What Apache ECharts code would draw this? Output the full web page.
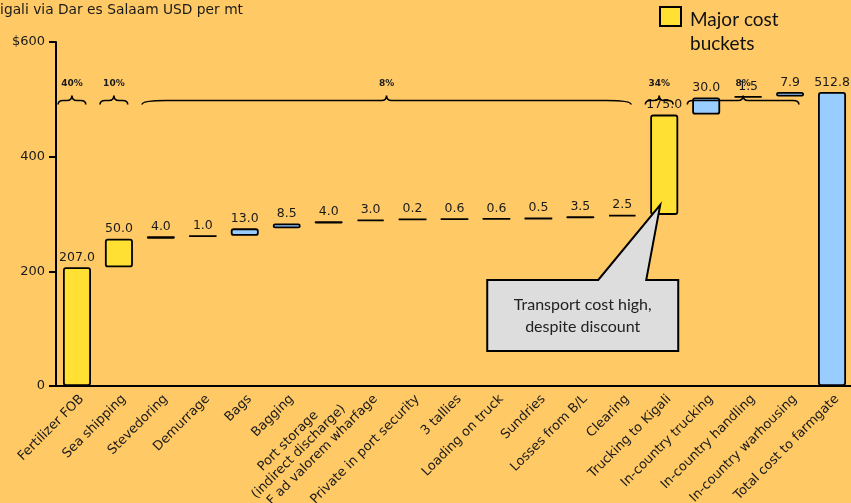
<!DOCTYPE html>
<html><head><meta charset="utf-8">
<script src="https://cdn.jsdelivr.net/npm/echarts@6/dist/echarts.min.js"></script>
<style>html,body{margin:0;padding:0;background:#FFC966;}#c{width:851px;height:503px;}</style>
</head><body><div id="c"></div>
<script>
// ---- data ----
const categories = ['Fertilizer FOB','Sea shipping','Stevedoring','Demurrage','Bags','Bagging',
  'Port storage\n(indirect discharge)','C+F ad valorem wharfage','Private in port security','3 tallies',
  'Loading on truck','Sundries','Losses from B/L','Clearing','Trucking to Kigali','In-country trucking',
  'In-country handling','In-country warhousing','Total cost to farmgate'];
const costValues = [207.0,50.0,4.0,1.0,13.0,8.5,4.0,3.0,0.2,0.6,0.6,0.5,3.5,2.5,175.0,30.0,1.5,7.9,512.8];
const majorBucket = [true,true,false,false,false,false,false,false,false,false,false,false,false,false,true,false,false,false,false];
const totalBar = [false,false,false,false,false,false,false,false,false,false,false,false,false,false,false,false,false,false,true];
const yTickValues = [0,200,400,600];
const yTickLabels = ['0','200','400','$600'];
const braceFrom = [0,1,2,14,15];
const braceTo = [0,1,13,14,17];
const braceLabels = ['40%','10%','8%','34%','8%'];
const calloutCategory = 14;
const calloutText = 'Transport cost high,\ndespite discount';
const titleText = 'Kigali via Dar es Salaam USD per mt';
const legendText = ['Major cost','buckets'];

// ---- derived waterfall bases ----
const bases = [];
let run = 0;
costValues.forEach((v,i)=>{ if(totalBar[i]){bases.push(0);} else {bases.push(run); run += v;} });

const YELLOW = '#FFE033', BLUE = '#99CCFF', INK = '#1a1a1a';
const FONT = 'DejaVu Sans';

const chart = echarts.init(document.getElementById('c'), null, {renderer:'canvas'});
const braceData = braceFrom.map((f,i)=>[f, braceTo[i], i]);

const option = {
  backgroundColor: '#FFC966',
  animation: false,
  grid: {left: 56, right: -2, top: 42, bottom: 117, outerBoundsMode: 'none', containLabel: false},
  xAxis: {
    type: 'category', data: categories,
    axisLine: {show: true, onZero: false, lineStyle: {color: '#000', width: 2}},
    axisTick: {show: false},
    axisLabel: {
      interval: 0, rotate: 45, margin: 16, padding: [0,-7,0,0],
      color: INK, fontFamily: FONT, fontSize: 13,
      formatter: v => v.indexOf('\n') >= 0 ? '\n' + v.split('\n').map(s=>'{c|'+s+'}').join('\n') : v,
      rich: {c: {align: 'center', fontFamily: FONT, fontSize: 13, color: INK, lineHeight: 15}}
    },
    splitLine: {show: false}
  },
  yAxis: {
    type: 'value', min: 0, max: 600, interval: 200,
    axisLine: {show: true, lineStyle: {color: '#000', width: 2}},
    axisTick: {show: true, length: 7, lineStyle: {color: '#000', width: 2}},
    axisLabel: {margin: 11, color: INK, fontFamily: FONT, fontSize: 13,
      formatter: v => { const k = yTickValues.indexOf(v); return k>=0 ? yTickLabels[k] : String(v); }},
    splitLine: {show: false}
  },
  series: [
    {
      type: 'bar', stack: 'w', barWidth: 28, silent: true,
      itemStyle: {color: 'transparent', borderColor: 'transparent'},
      data: bases
    },
    {
      type: 'bar', stack: 'w', barWidth: 28,
      data: costValues.map((v,i)=>({value: v, itemStyle: {color: majorBucket[i] ? YELLOW : BLUE}})),
      itemStyle: {borderColor: '#000', borderWidth: 1.8, borderRadius: 2},
      label: {show: true, position: 'top', distance: 3, color: INK, fontFamily: FONT, fontSize: 12.5,
        formatter: p => costValues[p.dataIndex].toFixed(1)}
    },
    {
      type: 'custom', z: 5, clip: false,
      data: braceData,
      encode: {x: [0,1]},
      renderItem: (params, api) => {
        const f = api.value(0), t = api.value(1), li = api.value(2);
        const band = api.size([1,0])[0];
        const pa = api.coord([f, 498]);
        const pb = api.coord([t, 498]);
        const pl = api.coord([f, 527]);
        const x0 = pa[0] - 0.45*band, x1 = pb[0] + 0.21*band, y = pa[1];
        const xm = (x0+x1)/2;
        const w = x1 - x0;
        const h = Math.max(5, Math.min(25, w*0.05));
        const d = `M${x0},${y+4} Q${x0},${y} ${x0+h},${y} L${xm-5},${y} Q${xm},${y} ${xm},${y-5} Q${xm},${y} ${xm+5},${y} L${x1-h},${y} Q${x1},${y} ${x1},${y+4}`;
        return {type: 'group', children: [
          {type: 'path', shape: {pathData: d}, style: {fill: null, stroke: '#000', lineWidth: 1.6}},
          {type: 'text', style: {x: xm, y: pl[1], text: braceLabels[li], fill: INK, font: 'bold 9px "DejaVu Sans"', align: 'center', verticalAlign: 'middle'}}
        ]};
      }
    },
    {
      type: 'custom', z: 6, clip: false,
      data: [[calloutCategory, bases[calloutCategory]]],
      encode: {x: 0, y: 1},
      renderItem: (params, api) => {
        const p = api.coord([api.value(0), api.value(1)]);
        const tx = p[0] - 4, ty = p[1] - 10;
        const pts = [[tx,ty],[tx-14,ty+75],[tx+18,ty+75],[tx+18,ty+146],[tx-173,ty+146],[tx-173,ty+75],[tx-62,ty+75]];
        return {type: 'group', children: [
          {type: 'polygon', shape: {points: pts}, style: {fill: '#DDDDDD', stroke: '#000', lineWidth: 2}},
          {type: 'text', style: {x: tx-77.5, y: ty+111, text: calloutText, fill: '#222', font: '16px Lato', align: 'center', verticalAlign: 'middle', lineHeight: 22}}
        ]};
      }
    }
  ],
  graphic: [
    {type: 'text', left: -9, top: 3, style: {text: titleText, fill: INK, font: '13.8px "DejaVu Sans"'}},
    {type: 'rect', shape: {x: 660, y: 7, width: 21, height: 19}, style: {fill: YELLOW, stroke: '#000', lineWidth: 2}},
    {type: 'text', x: 690, y: 20, style: {text: legendText[0], fill: '#111', font: '19px Lato', verticalAlign: 'middle'}},
    {type: 'text', x: 690, y: 44, style: {text: legendText[1], fill: '#111', font: '19px Lato', verticalAlign: 'middle'}}
  ]
};
chart.setOption(option);
</script></body></html>
